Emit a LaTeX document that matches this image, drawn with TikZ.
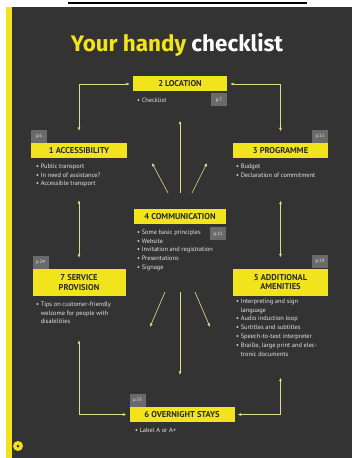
\documentclass[tikz,border=0pt]{standalone}
\usepackage{fontspec}
\setmainfont{PT Sans}
\newfontfamily\titlefont{Fira Sans}
\usetikzlibrary{arrows.meta}
\definecolor{panel}{HTML}{333333}
\definecolor{ylw}{HTML}{F2E41C}
\definecolor{lnc}{HTML}{E3D98A}
\definecolor{tagc}{HTML}{6A6A6A}
\definecolor{txt}{HTML}{E6E6E6}
\definecolor{boxtxt}{HTML}{2A2A2A}
\newcommand\cont{\hphantom{•\ }}
\begin{document}
\begin{tikzpicture}[x=1bp,y=-1bp,
 hbox/.style={fill=ylw, text=boxtxt, font=\fontsize{8.5}{9.8}\selectfont\bfseries, inner sep=0pt, align=center, minimum height=15bp},
 tag/.style={fill=tagc, text=txt!85, font=\fontsize{4.8}{5}\selectfont, minimum width=16bp, minimum height=13bp, inner sep=0pt},
 blt/.style={text=txt, font=\fontsize{6.4}{8.9}\selectfont, align=left, inner sep=0pt, anchor=north west},
 conn/.style={draw=lnc, line width=0.6bp, -{Latex[length=3.5bp,width=3bp]}},
 conn2/.style={draw=lnc, line width=0.6bp, {Latex[length=3.5bp,width=3bp]}-{Latex[length=3.5bp,width=3bp]}},
]
\useasboundingbox (0,0) rectangle (352,458);
\fill[white] (0,0) rectangle (352,458);
\fill[panel] (6,7) rectangle (352,458);
\fill[ylw] (6,7) rectangle (11.5,458);
\draw[black, line width=2.5bp] (68,3) -- (307,3);

\node (title) at (177,45) {\titlefont\bfseries\fontsize{22.5}{24}\selectfont\textcolor{ylw}{Your handy} \textcolor{white}{checklist}};

% boxes
\node[hbox, minimum width=94bp] (loc) at (180,84) {2 LOCATION};
\node[hbox, minimum width=96bp] (acc) at (79,150.5) {1 ACCESSIBILITY};
\node[hbox, minimum width=95bp] (prog) at (280.5,151) {3 PROGRAMME};
\node[hbox, minimum width=92bp] (comm) at (180,216.5) {4 COMMUNICATION};
\node[hbox, minimum width=93bp, minimum height=27bp] (serv) at (79,282.5) {7 SERVICE\\PROVISION};
\node[hbox, minimum width=95bp, minimum height=27bp] (amen) at (280.5,282) {5 ADDITIONAL\\AMENITIES};
\node[hbox, minimum width=105bp] (over) at (182,414.5) {6 OVERNIGHT STAYS};

% page tags
\node[tag, anchor=north east] (t2) at ([yshift=-1.5bp]loc.south east) {p.7};
\node[tag, anchor=south west] (t1) at (acc.north west) {p.6};
\node[tag, anchor=south east] (t3) at (prog.north east) {p.11};
\node[tag, anchor=north east] (t4) at ([yshift=-3bp]comm.south east) {p.11};
\node[tag, anchor=south west] (t7) at (serv.north west) {p.24};
\node[tag, anchor=south east] (t5) at (amen.north east) {p.19};
\node[tag, anchor=south west] (t6) at (over.north west) {p.35};

% bullets
\node[blt, anchor=west] (b2) at (137,100) {• Checklist};
\node[blt] (b1) at (36,163.5) {• Public transport\\• In need of assistance?\\• Accessible transport};
\node[blt] (b3) at (236,164) {• Budget\\• Declaration of commitment};
\node[blt] (b4) at (137,229.5) {• Some basic principles\\• Website\\• Invitation and registration\\• Presentations\\• Signage};
\node[blt] (b7) at (36,301.5) {• Tips on customer-friendly\\\cont welcome for people with\\\cont disabilities};
\node[blt] (b5) at (236,298.5) {• Interpreting and sign\\\cont language\\• Audio induction loop\\• Surtitles and subtitles\\• Speech-to-text interpreter\\• Braille, large print and elec-\\\cont tronic documents};
\node[blt] (b6) at (135,428) {• Label A or A+};

% connectors
\draw[conn2, shorten <=12bp, shorten >=3bp] (acc.north) |- (loc.west);
\draw[conn2, shorten <=12bp, shorten >=3bp] (prog.north) |- (loc.east);
\draw[conn2, shorten <=42bp, shorten >=11bp] (acc.south) -- (acc.south |- serv.north);
\draw[conn2, shorten <=42bp, shorten >=11bp] (prog.south) -- (prog.south |- amen.north);
\draw[conn2, shorten <=44bp, shorten >=3bp] (serv.south) |- (over.west);
\draw[conn2, shorten <=82bp, shorten >=3bp] (amen.south) |- (over.east);
\draw[conn, shorten <=16bp, shorten >=29bp] (comm.north) -- (loc.south);
\draw[conn, shorten <=68bp, shorten >=32bp] (comm.south) -- (comm.south |- over.north);

\coordinate (d1s) at (168,193); \coordinate (d1e) at (152,163);
\coordinate (d2s) at (192,193); \coordinate (d2e) at (207,163);
\coordinate (d3s) at (165,292); \coordinate (d3e) at (150,327);
\coordinate (d4s) at (195,292); \coordinate (d4e) at (210,327);
\draw[conn] (d1s) -- (d1e);
\draw[conn] (d2s) -- (d2e);
\draw[conn] (d3s) -- (d3e);
\draw[conn] (d4s) -- (d4e);

% page marker
\fill[ylw] (18,446) circle (5bp);
\fill[panel] (18,446) circle (1.5bp);
\end{tikzpicture}
\end{document}
